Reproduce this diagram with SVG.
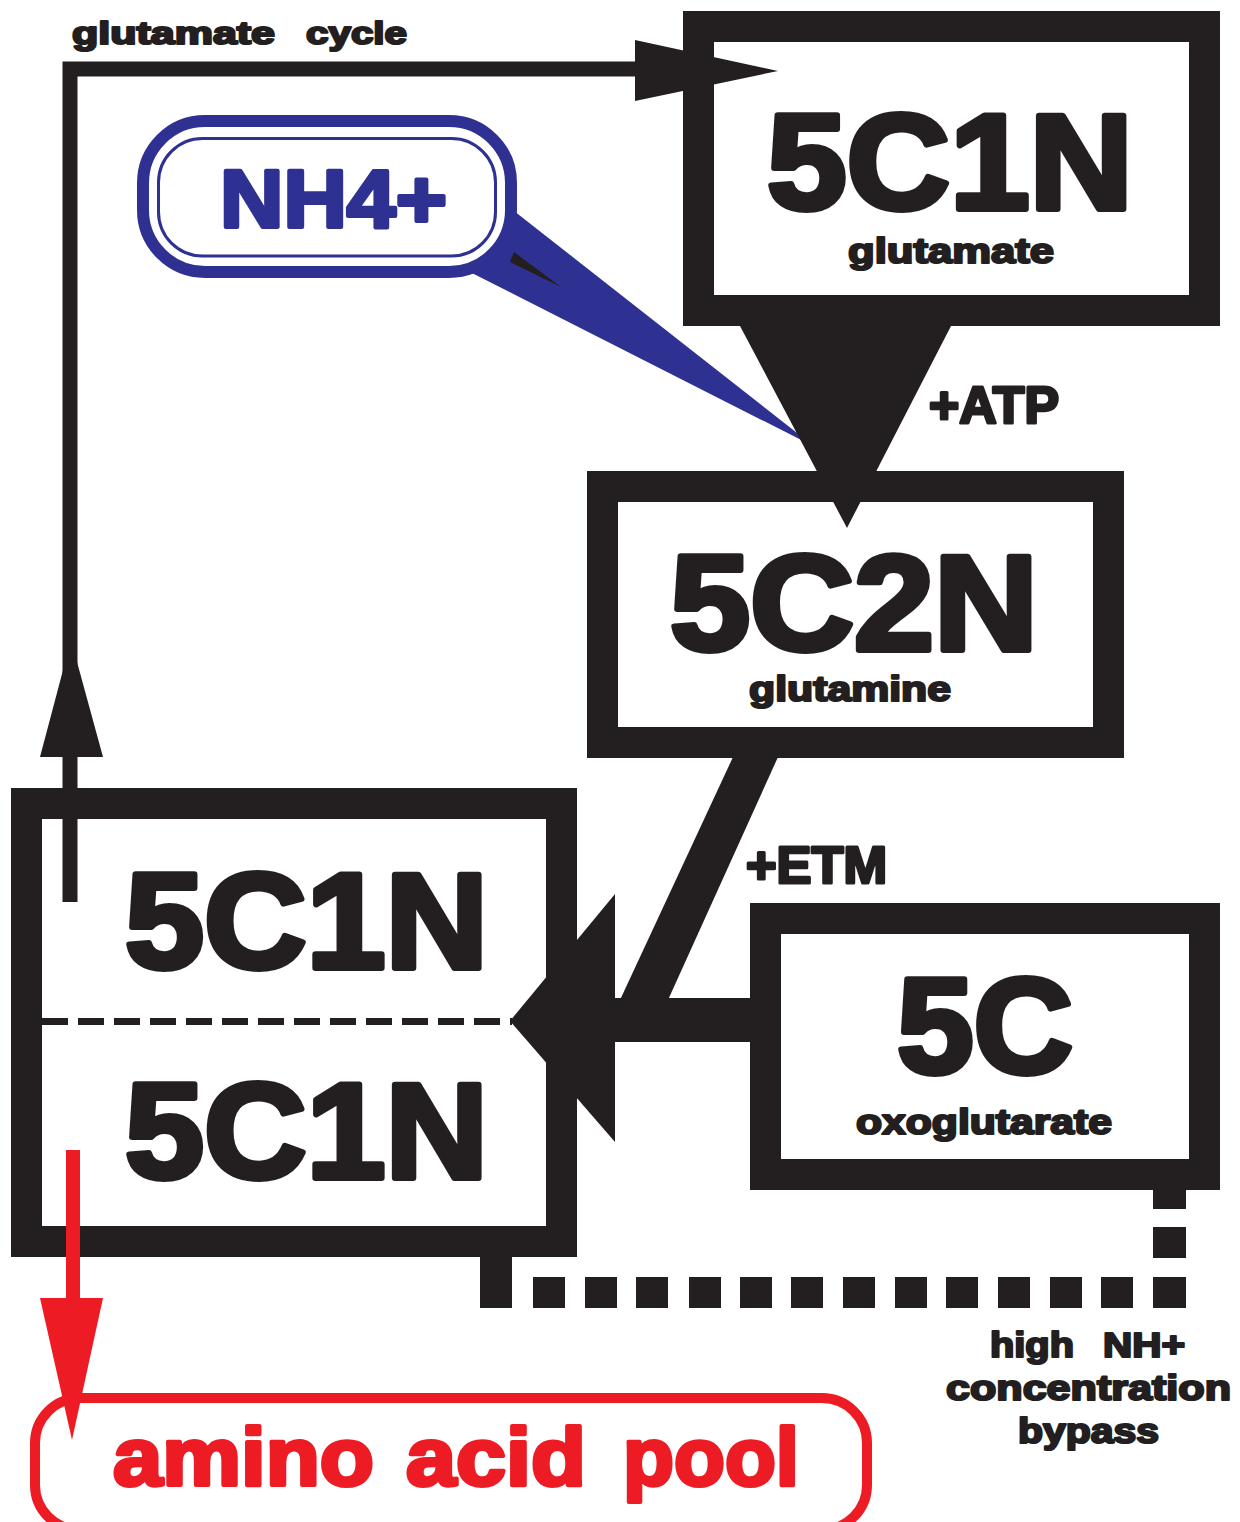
<svg xmlns="http://www.w3.org/2000/svg" width="1240" height="1522" viewBox="0 0 1240 1522">
<style>
.box{fill:#ffffff;stroke:#231f20;stroke-width:31}
.k{fill:#231f20}
.t{font-family:"Liberation Sans",Arial,sans-serif;font-weight:bold;fill:#231f20;stroke:#231f20;stroke-linejoin:round}
.big{font-size:136px;stroke-width:6}
.mid{font-size:51px;stroke-width:3}
.sm{font-size:35px;stroke-width:2.2}
.blue{fill:#2e3192}
.red{fill:#ed1c24}
</style>
<rect width="1240" height="1522" fill="#ffffff"/>

<g id="node-glutamate">
<rect class="box" x="698.5" y="26.5" width="506" height="284"/>
<text class="t big" x="767" y="209" textLength="366" lengthAdjust="spacingAndGlyphs">5C1N</text>
<text class="t sm" x="848" y="263" textLength="206" lengthAdjust="spacingAndGlyphs">glutamate</text>
</g>

<g id="node-glutamine">
<rect class="box" x="602.5" y="486.5" width="506" height="256"/>
<text class="t big" x="670" y="650" textLength="368" lengthAdjust="spacingAndGlyphs">5C2N</text>
<text class="t sm" x="749" y="701" textLength="202" lengthAdjust="spacingAndGlyphs">glutamine</text>
</g>

<g id="node-5c1n-pool">
<rect class="box" x="26.5" y="803.5" width="535" height="438"/>
<line x1="42" y1="1021.5" x2="512" y2="1021.5" stroke="#231f20" stroke-width="7" stroke-dasharray="26 10"/>
<text class="t big" x="125" y="968" textLength="363" lengthAdjust="spacingAndGlyphs">5C1N</text>
<text class="t big" x="125" y="1178" textLength="363" lengthAdjust="spacingAndGlyphs">5C1N</text>
</g>

<g id="node-oxoglutarate">
<rect class="box" x="765.5" y="918.5" width="439" height="256"/>
<text class="t big" x="897" y="1073" textLength="176" lengthAdjust="spacingAndGlyphs">5C</text>
<text class="t sm" x="856" y="1134" textLength="256" lengthAdjust="spacingAndGlyphs">oxoglutarate</text>
</g>

<g id="node-amino-acid-pool">
<rect x="35" y="1398" width="832" height="132" rx="45" fill="none" stroke="#ed1c24" stroke-width="10"/>
<g class="t" style="fill:#ed1c24;stroke:#ed1c24;font-size:82px;stroke-width:4">
<text x="113" y="1485" textLength="261" lengthAdjust="spacingAndGlyphs">amino</text>
<text x="406" y="1485" textLength="180" lengthAdjust="spacingAndGlyphs">acid</text>
<text x="623" y="1485" textLength="176" lengthAdjust="spacingAndGlyphs">pool</text>
</g>
</g>

<g id="connectors">
<path d="M70 902 V69 H640" fill="none" stroke="#231f20" stroke-width="15"/>
<polygon class="k" points="635,40 635,101 778,71"/>
<polygon class="k" points="40,757 103,757 71,640"/>
<polygon class="blue" points="500,200 815,447 462,268"/>
<polygon class="k" points="740,326 951,326 847,528"/>
<polygon class="k" points="733,757 778,757 668,1000 620,1000"/>
<rect class="k" x="612" y="998" width="140" height="44"/>
<polygon class="k" points="510,1021 615,894 615,1142"/>
<g class="k">
<rect x="1153" y="1190" width="33" height="19"/>
<rect x="1153" y="1227" width="33" height="31"/>
<rect x="1153" y="1277" width="33" height="31"/>
<rect x="480" y="1257" width="32" height="51"/>
<rect x="533" y="1277" width="32" height="31"/>
<rect x="585" y="1277" width="32" height="31"/>
<rect x="636" y="1277" width="32" height="31"/>
<rect x="689" y="1277" width="32" height="31"/>
<rect x="740" y="1277" width="32" height="31"/>
<rect x="791" y="1277" width="32" height="31"/>
<rect x="843" y="1277" width="32" height="31"/>
<rect x="895" y="1277" width="32" height="31"/>
<rect x="946" y="1277" width="32" height="31"/>
<rect x="998" y="1277" width="32" height="31"/>
<rect x="1050" y="1277" width="32" height="31"/>
<rect x="1101" y="1277" width="32" height="31"/>
</g>
<line x1="73" y1="1150" x2="73" y2="1302" stroke="#ed1c24" stroke-width="14"/>
<polygon class="red" points="40,1298 103,1298 72,1440"/>
</g>

<g id="node-nh4">
<rect x="143" y="121" width="368" height="151" rx="62" fill="#ffffff" stroke="#2e3192" stroke-width="12"/>
<rect x="158.5" y="138.5" width="337" height="117.5" rx="44" fill="none" stroke="#2e3192" stroke-width="3"/>
<text class="t" x="220" y="227" textLength="227" lengthAdjust="spacingAndGlyphs" style="font-size:82px;fill:#2e3192;stroke:#2e3192;stroke-width:4">NH4+</text>
</g>
<polygon class="k" points="514,252 561,287 510,262"/>

<g id="labels">
<text class="t" x="72" y="44" textLength="203" lengthAdjust="spacingAndGlyphs" style="font-size:32px;stroke-width:2.2">glutamate</text>
<text class="t" x="306" y="44" textLength="101" lengthAdjust="spacingAndGlyphs" style="font-size:32px;stroke-width:2.2">cycle</text>
<text class="t mid" x="929" y="423" textLength="130" lengthAdjust="spacingAndGlyphs">+ATP</text>
<text class="t mid" x="746" y="883" textLength="141" lengthAdjust="spacingAndGlyphs">+ETM</text>
<text class="t sm" x="990" y="1357" textLength="84" lengthAdjust="spacingAndGlyphs">high</text>
<text class="t sm" x="1103" y="1357" textLength="82" lengthAdjust="spacingAndGlyphs">NH+</text>
<text class="t sm" x="946" y="1400" textLength="285" lengthAdjust="spacingAndGlyphs">concentration</text>
<text class="t sm" x="1018" y="1443" textLength="141" lengthAdjust="spacingAndGlyphs">bypass</text>
</g>
</svg>
